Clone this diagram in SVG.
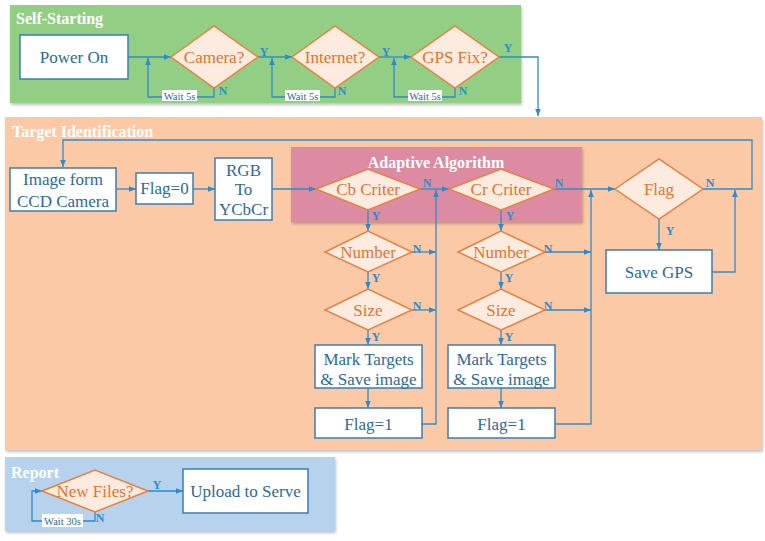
<svg xmlns="http://www.w3.org/2000/svg" width="765" height="541" viewBox="0 0 765 541">
<defs>
<marker id="ah" viewBox="0 0 10 10" refX="10" refY="5" markerWidth="7" markerHeight="7" orient="auto" markerUnits="userSpaceOnUse"><path d="M0,1 L10,5 L0,9 z" fill="#2E8BCB"/></marker>
<filter id="sh" x="-5%" y="-5%" width="110%" height="115%"><feDropShadow dx="1" dy="2" stdDeviation="1.5" flood-color="#000" flood-opacity="0.25"/></filter>
</defs>
<style>
text{font-family:"Liberation Serif","Times New Roman","DejaVu Serif",serif}
.box{fill:#fff;stroke:#3A7DB5;stroke-width:1.5}
.dia{fill:#FDEBE0;stroke:#E8803F;stroke-width:1.5}
.bt{font-size:17px;fill:#2B6A9B;text-anchor:middle;dominant-baseline:central}
.dt{font-size:17px;fill:#E4742F;text-anchor:middle;dominant-baseline:central}
.ttl{font-size:16px;font-weight:bold;fill:#fff}
.lb{font-size:12px;font-weight:bold;fill:#2E8BCB;text-anchor:middle;dominant-baseline:central}
.wt{font-size:10.5px;fill:#2B6A9B;text-anchor:middle;dominant-baseline:central}
.cn path{fill:none;stroke:#2E8BCB;stroke-width:1.3}
.cn .a{marker-end:url(#ah)}
</style>
<g id="panels">
<rect x="10" y="5" width="511" height="98" fill="#93CE85" filter="url(#sh)"/>
<rect x="5" y="117" width="757" height="333" fill="#FCC9A6" filter="url(#sh)"/>
<rect x="291" y="147" width="291" height="75" fill="#DC8BA2" filter="url(#sh)"/>
<rect x="5" y="457" width="330" height="74" fill="#B7D2EC" filter="url(#sh)"/>
<text class="ttl" x="16" y="24">Self-Starting</text>
<text class="ttl" x="12" y="137">Target Identification</text>
<text class="ttl" x="436" y="168" text-anchor="middle">Adaptive Algorithm</text>
<text class="ttl" x="11" y="478">Report</text>
</g>
<g class="cn" id="connectors">
<path class="a" d="M128,57 H171"/>
<path class="a" d="M214,88 V97 H148 V58"/>
<path class="a" d="M258,57 H292"/>
<path class="a" d="M335,88 V97 H272 V58"/>
<path class="a" d="M379,57 H411"/>
<path class="a" d="M455,88 V97 H394 V58"/>
<path class="a" d="M499,57 H538 V116"/>
<path class="a" d="M703,189 H752 V140 H63 V167"/>
<path class="a" d="M712,272 H735 V190"/>
<path class="a" d="M659,219 V250"/>
<path class="a" d="M116,189 H136"/>
<path class="a" d="M193,189 H215"/>
<path class="a" d="M272,189 H316"/>
<path class="a" d="M420,189 H449"/>
<path class="a" d="M422,424 H436 V190"/>
<path class="a" d="M412,252 H436"/>
<path class="a" d="M412,310 H436"/>
<path class="a" d="M368,210 V231"/>
<path class="a" d="M368,272 V289"/>
<path class="a" d="M368,330 V345"/>
<path class="a" d="M368,388 V408"/>
<path class="a" d="M501,210 V231"/>
<path class="a" d="M501,272 V289"/>
<path class="a" d="M501,330 V345"/>
<path class="a" d="M501,388 V408"/>
<path class="a" d="M554,189 H615"/>
<path class="a" d="M555,424 H591 V190"/>
<path class="a" d="M545,252 H591"/>
<path class="a" d="M545,310 H591"/>
<path class="a" d="M148,491 H183"/>
<path class="a" d="M95,512 V521 H32 V491 H42"/>
</g>
<g id="labels">
<rect x="162" y="90" width="35" height="11" fill="#fff"/><text class="wt" x="179.5" y="96">Wait 5s</text>
<rect x="285" y="90" width="35" height="11" fill="#fff"/><text class="wt" x="302.5" y="96">Wait 5s</text>
<rect x="408" y="90" width="34" height="11" fill="#fff"/><text class="wt" x="425" y="96">Wait 5s</text>
<rect x="42" y="514" width="41" height="13" fill="#fff"/><text class="wt" x="62.5" y="521">Wait 30s</text>
<text class="lb" x="264" y="52">Y</text><text class="lb" x="223" y="91">N</text>
<text class="lb" x="386" y="52">Y</text><text class="lb" x="342" y="91">N</text>
<text class="lb" x="508" y="48">Y</text><text class="lb" x="463" y="91">N</text>
<text class="lb" x="427" y="183">N</text><text class="lb" x="376" y="216">Y</text>
<text class="lb" x="559" y="183">N</text><text class="lb" x="510" y="216">Y</text>
<text class="lb" x="417" y="249">N</text><text class="lb" x="376" y="278">Y</text>
<text class="lb" x="417" y="306">N</text><text class="lb" x="376" y="337">Y</text>
<text class="lb" x="548" y="249">N</text><text class="lb" x="509" y="278">Y</text>
<text class="lb" x="548" y="306">N</text><text class="lb" x="509" y="337">Y</text>
<text class="lb" x="710" y="183">N</text><text class="lb" x="670" y="231">Y</text>
<text class="lb" x="157" y="485">Y</text><text class="lb" x="100" y="518">N</text>
</g>
<g id="power-on"><rect class="box" x="20" y="35" width="108" height="44"/><text class="bt" x="74" y="57">Power On</text></g>
<g id="camera"><polygon class="dia" points="171,57 214,26 258,57 214,88"/><text class="dt" x="214" y="57">Camera?</text></g>
<g id="internet"><polygon class="dia" points="292,57 335,26 379,57 335,88"/><text class="dt" x="335" y="57">Internet?</text></g>
<g id="gps-fix"><polygon class="dia" points="411,57 455,26 499,57 455,88"/><text class="dt" x="455" y="57">GPS Fix?</text></g>
<g id="image-ccd"><rect class="box" x="10" y="168" width="106" height="43"/><text class="bt" x="63" y="179">Image form</text><text class="bt" x="63" y="201">CCD Camera</text></g>
<g id="flag0"><rect class="box" x="136" y="173" width="57" height="31"/><text class="bt" x="164.5" y="188">Flag=0</text></g>
<g id="rgb"><rect class="box" x="215" y="158" width="57" height="62"/><text class="bt" x="243.5" y="170">RGB</text><text class="bt" x="243.5" y="189">To</text><text class="bt" x="243.5" y="209">YCbCr</text></g>
<g id="cb-criter"><polygon class="dia" points="316,189 368,169 420,189 368,210"/><text class="dt" x="368" y="189">Cb Criter</text></g>
<g id="cr-criter"><polygon class="dia" points="449,189 501,169 554,189 501,210"/><text class="dt" x="501" y="189">Cr Criter</text></g>
<g id="flag"><polygon class="dia" points="615,189 659,159 703,189 659,219"/><text class="dt" x="659" y="189">Flag</text></g>
<g id="save-gps"><rect class="box" x="606" y="250" width="106" height="43"/><text class="bt" x="659" y="272">Save GPS</text></g>
<g id="number-cb"><polygon class="dia" points="325,252 368,231 412,252 368,272"/><text class="dt" x="368" y="252">Number</text></g>
<g id="size-cb"><polygon class="dia" points="325,310 368,289 412,310 368,330"/><text class="dt" x="368" y="310">Size</text></g>
<g id="mark-cb"><rect class="box" x="315" y="345" width="107" height="43"/><text class="bt" x="368.5" y="359">Mark Targets</text><text class="bt" x="368.5" y="379">&amp; Save image</text></g>
<g id="flag1-cb"><rect class="box" x="315" y="408" width="107" height="30"/><text class="bt" x="368.5" y="424">Flag=1</text></g>
<g id="number-cr"><polygon class="dia" points="458,252 501,231 545,252 501,272"/><text class="dt" x="501" y="252">Number</text></g>
<g id="size-cr"><polygon class="dia" points="458,310 501,289 545,310 501,330"/><text class="dt" x="501" y="310">Size</text></g>
<g id="mark-cr"><rect class="box" x="448" y="345" width="107" height="43"/><text class="bt" x="501.5" y="359">Mark Targets</text><text class="bt" x="501.5" y="379">&amp; Save image</text></g>
<g id="flag1-cr"><rect class="box" x="448" y="408" width="107" height="30"/><text class="bt" x="501.5" y="424">Flag=1</text></g>
<g id="new-files"><polygon class="dia" points="42,491 95,470 148,491 95,512"/><text class="dt" x="95" y="491">New Files?</text></g>
<g id="upload"><rect class="box" x="183" y="469" width="125" height="44"/><text class="bt" x="245.5" y="491">Upload to Serve</text></g>
</svg>
